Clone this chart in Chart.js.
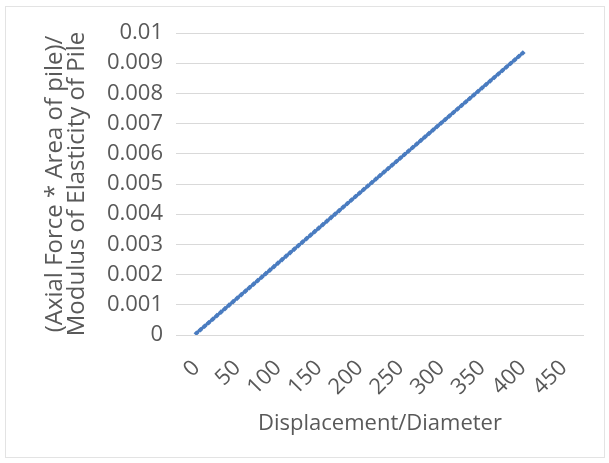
<!DOCTYPE html>
<html>
<head>
<meta charset="utf-8">
<script src="https://cdn.jsdelivr.net/npm/chart.js@4/dist/chart.umd.min.js"></script>
<style>
    html, body { margin: 0; padding: 0; background: #fff; }
    #wrap { width: 609px; height: 463px; position: relative; }
</style>
</head>
<body>
<div id="wrap"><canvas id="myChart" width="609" height="463"></canvas></div>
<script>
// displacement / diameter
const xValues = [
    0, 5, 10, 15, 20, 25, 30, 35, 40, 45, 50, 55, 60, 65, 70, 75, 80, 85, 90, 95,
    100, 105, 110, 115, 120, 125, 130, 135, 140, 145, 150, 155, 160, 165, 170, 175, 180, 185, 190, 195,
    200, 205, 210, 215, 220, 225, 230, 235, 240, 245, 250, 255, 260, 265, 270, 275, 280, 285, 290, 295,
    300, 305, 310, 315, 320, 325, 330, 335, 340, 345, 350, 355, 360, 365, 370, 375, 380, 385, 390, 395,
    400
];
// (axial force * area) / modulus of elasticity
const yValues = [
    0.00006, 0.000176, 0.000292, 0.000408, 0.000524, 0.00064, 0.000756, 0.000872, 0.000988, 0.001104,
    0.00122, 0.001336, 0.001452, 0.001568, 0.001684, 0.0018, 0.001916, 0.002032, 0.002148, 0.002264,
    0.00238, 0.002496, 0.002612, 0.002728, 0.002844, 0.00296, 0.003076, 0.003192, 0.003308, 0.003424,
    0.00354, 0.003656, 0.003772, 0.003888, 0.004004, 0.00412, 0.004236, 0.004352, 0.004468, 0.004584,
    0.0047, 0.004816, 0.004932, 0.005048, 0.005164, 0.00528, 0.005396, 0.005512, 0.005628, 0.005744,
    0.00586, 0.005976, 0.006092, 0.006208, 0.006324, 0.00644, 0.006556, 0.006672, 0.006788, 0.006904,
    0.00702, 0.007136, 0.007252, 0.007368, 0.007484, 0.0076, 0.007716, 0.007832, 0.007948, 0.008064,
    0.00818, 0.008296, 0.008412, 0.008528, 0.008644, 0.00876, 0.008876, 0.008992, 0.009108, 0.009224,
    0.00934
];
const xTicks = [0, 50, 100, 150, 200, 250, 300, 350, 400, 450];
const yTicks = [0, 0.001, 0.002, 0.003, 0.004, 0.005, 0.006, 0.007, 0.008, 0.009, 0.01];

const lineColor = '#4A7CC0';
const textColor = '#595959';
const gridColor = '#D9D9D9';
const fontFamily = "'Open Sans', 'Liberation Sans', sans-serif";

const points = xValues.map(function (x, i) {
    return { x: x, y: yValues[i] };
});

// white background + light outer border like the Excel chart frame
const frame = {
    id: 'frame',
    beforeDraw: function (chart) {
        const ctx = chart.ctx;
        ctx.save();
        ctx.fillStyle = '#fff';
        ctx.fillRect(0, 0, chart.width, chart.height);
        ctx.strokeStyle = '#E3E3E3';
        ctx.lineWidth = 1;
        ctx.strokeRect(5.5, 6.5, 599, 451);
        ctx.restore();
    }
};

new Chart(document.getElementById('myChart').getContext('2d'), {
    type: 'scatter',
    data: {
        datasets: [{
            data: points,
            showLine: true,
            borderColor: lineColor,
            backgroundColor: lineColor,
            borderWidth: 3,
            pointStyle: 'rectRot',
            pointRadius: 2.8,
            pointBorderWidth: 0,
            pointHoverRadius: 2.8
        }]
    },
    options: {
        responsive: false,
        animation: false,
        layout: {
            padding: { left: 0, right: 25, top: 33, bottom: 26 }
        },
        plugins: {
            legend: { display: false },
            tooltip: { enabled: false }
        },
        scales: {
            x: {
                type: 'linear',
                min: -25,
                max: 475,
                afterBuildTicks: function (scale) {
                    scale.ticks = xTicks.map(function (v) { return { value: v }; });
                },
                afterFit: function (scale) {
                    scale.height = 102;
                },
                grid: { display: false, drawTicks: false },
                border: { display: false },
                ticks: {
                    color: textColor,
                    font: { family: fontFamily, size: 22 },
                    minRotation: 45,
                    maxRotation: 45,
                    padding: 20,
                    autoSkip: false
                },
                title: {
                    display: true,
                    text: 'Displacement/Diameter',
                    color: textColor,
                    font: { family: fontFamily, size: 22 },
                    padding: { top: 0, bottom: 0 }
                }
            },
            y: {
                min: 0,
                max: 0.01,
                afterBuildTicks: function (scale) {
                    scale.ticks = yTicks.map(function (v) { return { value: v }; });
                },
                afterFit: function (scale) {
                    scale.width = 176;
                },
                grid: { color: gridColor, lineWidth: 1, drawTicks: false },
                border: { display: false },
                ticks: {
                    color: textColor,
                    font: { family: fontFamily, size: 22 },
                    padding: 13,
                    callback: function (v) { return String(v); }
                },
                title: {
                    display: true,
                    text: ['(Axial Force * Area of pile)/', 'Modulus of Elasticity of Pile'],
                    color: textColor,
                    font: { family: fontFamily, size: 24, lineHeight: 0.92 },
                    padding: { top: 44, bottom: 0 }
                }
            }
        }
    },
    plugins: [frame]
});
</script>
</body>
</html>
